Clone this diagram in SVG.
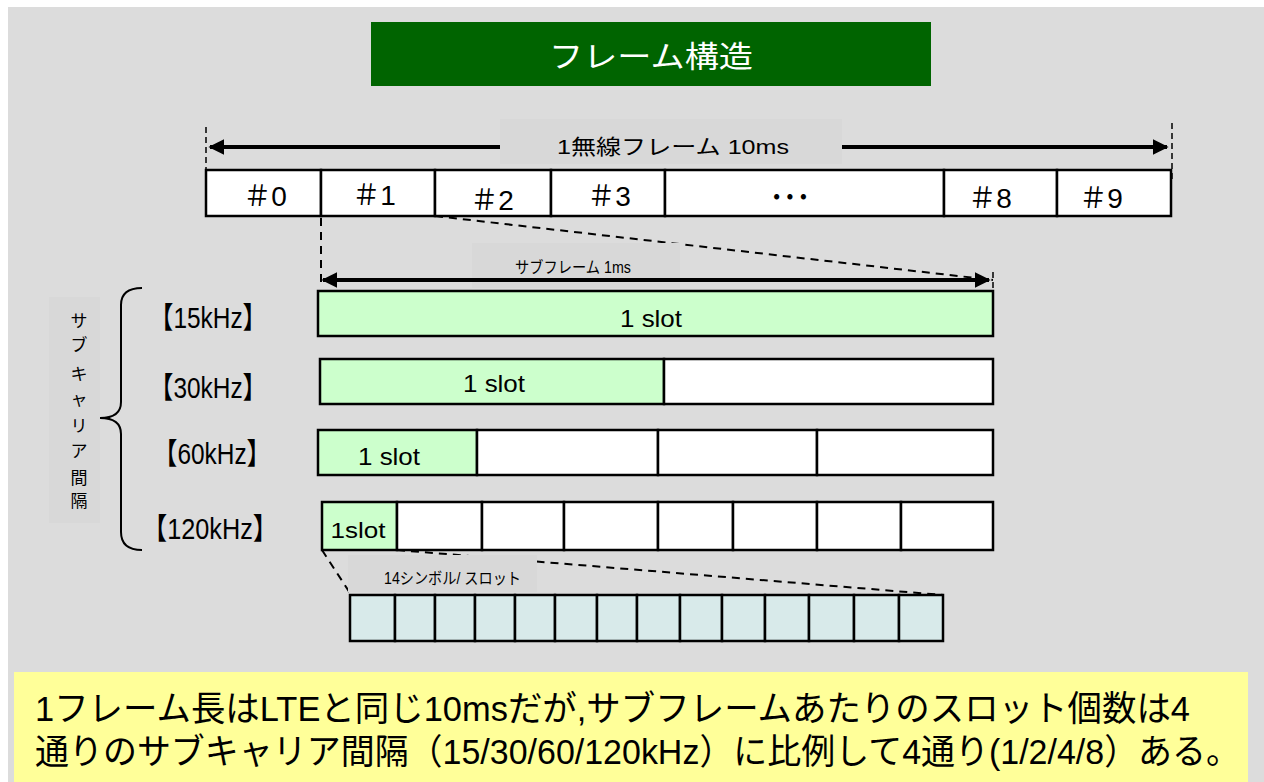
<svg xmlns="http://www.w3.org/2000/svg" width="1264" height="782" viewBox="0 0 1264 782">
<defs>
<style>
.t{font-family:"Liberation Sans","Noto Sans CJK JP",sans-serif;fill:#000}
.box{fill:#fff;stroke:#000;stroke-width:2.5}
.g{fill:#ccffcc;stroke:#000;stroke-width:2.5}
.sym{fill:#d8eaea;stroke:#000;stroke-width:2.5}
.dash{fill:none;stroke:#000;stroke-width:2;stroke-dasharray:8,6}
.thin{fill:none;stroke:#000;stroke-width:1.5;stroke-dasharray:6,4}
.lbl{fill:#d8d8d8}
</style>
<marker id="ah" viewBox="0 0 10 10" refX="9" refY="5" markerWidth="4" markerHeight="4" orient="auto-start-reverse" markerUnits="strokeWidth">
<path d="M0,0 L10,5 L0,10 z" fill="#000"/>
</marker>
</defs>
<rect x="8" y="7" width="1256" height="775" fill="#dcdcdc"/>

<g id="title">
<rect x="371" y="22" width="560" height="64" fill="#006400"/>
<text x="651" y="67" text-anchor="middle" font-family="Liberation Sans,'Noto Sans CJK JP',sans-serif" font-size="30" fill="#fff" textLength="204" lengthAdjust="spacingAndGlyphs">フレーム構造</text>
</g>

<g id="connectors">
<line x1="210" y1="147" x2="1167" y2="147" stroke="#000" stroke-width="4" marker-start="url(#ah)" marker-end="url(#ah)"/>
<line class="thin" x1="206" y1="127" x2="206" y2="170"/>
<line class="thin" x1="1172" y1="123" x2="1172" y2="182"/>
<line class="dash" x1="321" y1="190" x2="321" y2="288"/>
<line class="dash" x1="435" y1="216" x2="993" y2="280"/>
<line class="thin" x1="993" y1="272" x2="993" y2="291"/>
<line class="dash" x1="322" y1="550" x2="350" y2="593"/>
<line class="dash" x1="397" y1="550" x2="943" y2="595"/>
</g>

<g id="frame-label">
<rect class="lbl" x="500" y="119" width="342" height="45"/>
<text class="t" x="673" y="154" text-anchor="middle" font-size="21" textLength="232" lengthAdjust="spacingAndGlyphs">1無線フレーム 10ms</text>
</g>

<g id="frame">
<rect class="box" x="206" y="170" width="115" height="46"/>
<rect class="box" x="321" y="170" width="114" height="46"/>
<rect class="box" x="435" y="170" width="116" height="46"/>
<rect class="box" x="551" y="170" width="114" height="46"/>
<rect class="box" x="665" y="170" width="279" height="46"/>
<rect class="box" x="944" y="170" width="113" height="46"/>
<rect class="box" x="1057" y="170" width="114" height="46"/>
<g class="t" font-size="28" text-anchor="middle">
<text x="265" y="206">＃0</text>
<text x="374" y="205">＃1</text>
<text x="492" y="210">＃2</text>
<text x="609" y="206">＃3</text>
<text x="990" y="208">＃8</text>
<text x="1101" y="208">＃9</text>
</g>
<text class="t" x="790" y="208" text-anchor="middle" font-size="28" font-weight="bold" textLength="40" lengthAdjust="spacingAndGlyphs">･･･</text>
</g>

<g id="subframe-arrow">
<rect class="lbl" x="472" y="243" width="208" height="45"/>
<text class="t" x="573" y="273" text-anchor="middle" font-size="16" textLength="116" lengthAdjust="spacingAndGlyphs">サブフレーム 1ms</text>
<line x1="323" y1="280" x2="989" y2="280" stroke="#000" stroke-width="4" marker-start="url(#ah)" marker-end="url(#ah)"/>
</g>

<g id="scs-label">
<rect class="lbl" x="49" y="297" width="51" height="226"/>
<g class="t" font-size="17" text-anchor="middle">
<text x="79" y="327">サ</text>
<text x="79" y="351">ブ</text>
<text x="79" y="380">キ</text>
<text x="79" y="405">ャ</text>
<text x="79" y="432">リ</text>
<text x="79" y="457">ア</text>
<text x="79" y="484">間</text>
<text x="79" y="507">隔</text>
</g>
<path d="M142,288 Q121,288 121,305 L121,402 Q121,418 100,418 Q121,418 121,434 L121,532 Q121,550 142,550" fill="none" stroke="#000" stroke-width="2"/>
</g>

<g id="row-15khz">
<text class="t" transform="translate(208,328) scale(1,1.15)" text-anchor="middle" font-size="26" textLength="118" lengthAdjust="spacingAndGlyphs">【15kHz】</text>
<rect class="g" x="318" y="291" width="675" height="45"/>
<text class="t" x="651" y="327" text-anchor="middle" font-size="24" textLength="62" lengthAdjust="spacingAndGlyphs">1 slot</text>
</g>

<g id="row-30khz">
<text class="t" transform="translate(208,398) scale(1,1.15)" text-anchor="middle" font-size="26" textLength="118" lengthAdjust="spacingAndGlyphs">【30kHz】</text>
<rect class="g" x="320" y="359" width="344" height="45"/>
<rect class="box" x="664" y="359" width="329" height="45"/>
<text class="t" x="494" y="392" text-anchor="middle" font-size="24" textLength="62" lengthAdjust="spacingAndGlyphs">1 slot</text>
</g>

<g id="row-60khz">
<text class="t" transform="translate(212,464) scale(1,1.15)" text-anchor="middle" font-size="26" textLength="118" lengthAdjust="spacingAndGlyphs">【60kHz】</text>
<rect class="g" x="318" y="430" width="159" height="45"/>
<rect class="box" x="477" y="430" width="181" height="45"/>
<rect class="box" x="658" y="430" width="159" height="45"/>
<rect class="box" x="817" y="430" width="176" height="45"/>
<text class="t" x="389" y="465" text-anchor="middle" font-size="24" textLength="62" lengthAdjust="spacingAndGlyphs">1 slot</text>
</g>

<g id="row-120khz">
<text class="t" transform="translate(210,539) scale(1,1.15)" text-anchor="middle" font-size="26" textLength="136" lengthAdjust="spacingAndGlyphs">【120kHz】</text>
<rect class="g" x="322" y="502" width="75" height="48"/>
<rect class="box" x="397" y="502" width="85" height="48"/>
<rect class="box" x="482" y="502" width="82" height="48"/>
<rect class="box" x="564" y="502" width="94" height="48"/>
<rect class="box" x="658" y="502" width="75" height="48"/>
<rect class="box" x="733" y="502" width="84" height="48"/>
<rect class="box" x="817" y="502" width="84" height="48"/>
<rect class="box" x="901" y="502" width="92" height="48"/>
<text class="t" x="358" y="538" text-anchor="middle" font-size="22" textLength="55" lengthAdjust="spacingAndGlyphs">1slot</text>
</g>

<g id="symbols">
<rect class="lbl" x="348" y="555" width="189" height="37"/>
<text class="t" x="384" y="584" font-size="16" textLength="137" lengthAdjust="spacingAndGlyphs">14シンボル/ スロット</text>
<rect class="sym" x="350" y="595" width="45" height="46"/>
<rect class="sym" x="395" y="595" width="40" height="46"/>
<rect class="sym" x="435" y="595" width="40" height="46"/>
<rect class="sym" x="475" y="595" width="40" height="46"/>
<rect class="sym" x="515" y="595" width="40" height="46"/>
<rect class="sym" x="555" y="595" width="42" height="46"/>
<rect class="sym" x="597" y="595" width="40" height="46"/>
<rect class="sym" x="637" y="595" width="43" height="46"/>
<rect class="sym" x="680" y="595" width="42" height="46"/>
<rect class="sym" x="722" y="595" width="43" height="46"/>
<rect class="sym" x="765" y="595" width="44" height="46"/>
<rect class="sym" x="809" y="595" width="45" height="46"/>
<rect class="sym" x="854" y="595" width="45" height="46"/>
<rect class="sym" x="899" y="595" width="44" height="46"/>
</g>

<g id="note">
<rect x="14" y="672" width="1234" height="110" fill="#ffff99"/>
<text class="t" transform="translate(35,721) scale(1,1.18)" font-size="30" textLength="1155" lengthAdjust="spacingAndGlyphs">1フレーム長はLTEと同じ10msだが,サブフレームあたりのスロット個数は4</text>
<text class="t" transform="translate(35,764) scale(1,1.18)" font-size="30" textLength="1205" lengthAdjust="spacingAndGlyphs">通りのサブキャリア間隔（15/30/60/120kHz）に比例して4通り(1/2/4/8）ある。</text>
</g>
</svg>
